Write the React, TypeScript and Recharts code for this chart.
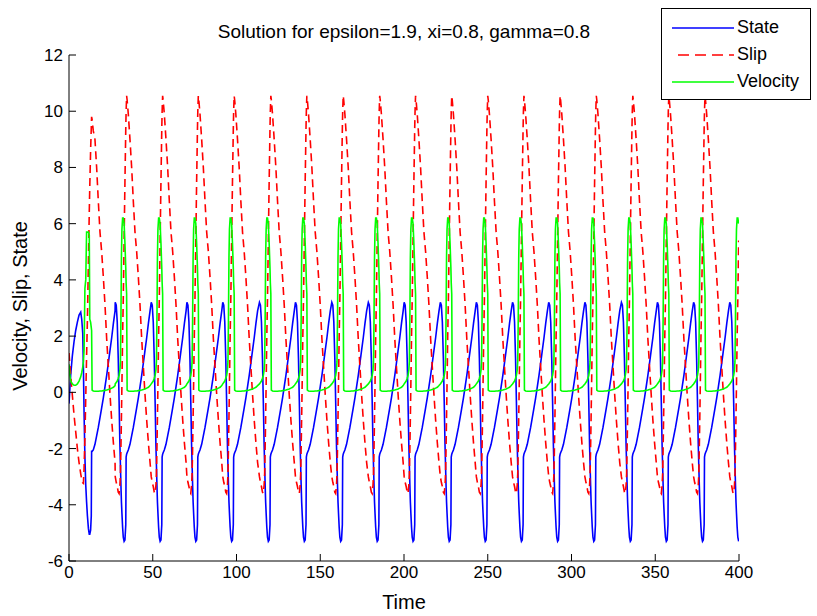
import { LineChart, Line, XAxis, YAxis, Legend } from 'recharts'

// start-up transient, read point by point (t, state, slip, velocity)
const startTime = [0, 0.5, 1, 2, 3, 4, 5, 6, 7, 7.6, 8.2, 8.6, 9.0, 9.5, 10.0, 10.5, 11.0, 11.6, 12.1, 12.4, 12.9, 13.3, 13.5, 13.8, 14.5]
const startState = [-0.4, 0.1, 0.6, 1.3, 1.8, 2.2, 2.5, 2.75, 2.85, 2.6, 2.1, 0.9, -0.75, -2.3, -3.3, -3.9, -4.4, -4.85, -5.05, -5.05, -4.9, -4.4, -2.1, -2.1, -2.05]
const startSlip = [1.4, 1.0, 0.6, -0.1, -0.8, -1.4, -2.0, -2.5, -2.9, -3.1, -3.22, -3.24, -2.7, -1.6, -0.2, 1.3, 2.6, 4.7, 6.4, 7.3, 8.6, 9.4, 9.8, 9.7, 9.3]
const startVelocity = [1.0, 0.6, 0.4, 0.3, 0.25, 0.25, 0.3, 0.4, 0.55, 0.7, 0.9, 1.1, 1.5, 3.7, 4.0, 5.7, 5.7, 5.7, 5.6, 2.6, 2.5, 2.3, 2.2, 0.08, 0.05]

// one limit cycle, offsets measured from the slip peak
const cycleOffset = [-6.8, -6.2, -5.6, -5.0, -4.5, -4.0, -3.7, -3.4, -3.1, -2.8, -2.4, -2.0, -1.5, -1.0, -0.5, -0.3, 0, 0.3, 1, 2, 3, 4, 5, 6, 7, 8, 9, 10, 11, 12, 13, 14]
const cycleState = [3.2, 3.1, 2.5, 1.2, -0.3, -1.9, -2.6, -3.3, -3.9, -4.3, -4.8, -5.15, -5.3, -5.25, -4.7, -2.3, -2.2, -2.15, -2.05, -1.85, -1.55, -1.25, -0.9, -0.55, -0.2, 0.2, 0.6, 1.05, 1.5, 1.95, 2.45, 2.9]
const cycleSlip = [-3.0, -3.2, -3.35, -3.55, -3.6, -3.3, -2.9, -2.0, -0.9, 0.3, 2.0, 3.3, 5.4, 7.5, 9.4, 10.0, 10.55, 10.4, 9.9, 9.0, 8.0, 6.8, 5.7, 5.0, 4.1, 3.1, 1.9, 0.9, -0.1, -1.0, -1.8, -2.5]
const cycleVelocity = [0.3, 0.35, 0.4, 0.5, 0.6, 0.8, 1.1, 2.6, 4.8, 5.8, 6.2, 6.2, 6.0, 5.3, 4.4, 3.9, 3.5, 0.08, 0.05, 0.04, 0.04, 0.04, 0.05, 0.05, 0.06, 0.07, 0.08, 0.1, 0.12, 0.15, 0.18, 0.24]

// times of the slip maxima (last one sits just past the right edge)
const slipPeaks = [13.5, 34.4, 55.9, 77.2, 98.6, 120.5, 142.0, 163.7, 185.5, 206.9, 228.5, 250.0, 271.6, 293.2, 314.8, 336.6, 358.1, 379.7, 401.3]

const xTicks = [0, 50, 100, 150, 200, 250, 300, 350, 400]
const yTicks = [-6, -4, -2, 0, 2, 4, 6, 8, 10, 12]

type Row = { t: number; state: number; slip: number; velocity: number }

const rows: Row[] = startTime.map((t, i) => ({
  t, state: startState[i], slip: startSlip[i], velocity: startVelocity[i],
}))
const lastStart = startTime[startTime.length - 1]
slipPeaks.forEach(peak => {
  cycleOffset.forEach((u, i) => {
    const t = Math.round((peak + u) * 100) / 100
    if (t <= lastStart || t > 400) return
    rows.push({ t, state: cycleState[i], slip: cycleSlip[i], velocity: cycleVelocity[i] })
  })
})

const FONT = '"Liberation Sans", Arial, Helvetica, sans-serif'
const tickStyle = { fill: '#000', fontSize: 17, fontFamily: FONT }

const legendItems = [
  { name: 'State', color: '#0000ff', dash: undefined as string | undefined },
  { name: 'Slip', color: '#ff0000', dash: '11 6' },
  { name: 'Velocity', color: '#00ff00', dash: undefined as string | undefined },
]

function LegendBox() {
  return (
    <div style={{
      width: 150, height: 92, border: '1px solid #000', background: '#fff',
      boxSizing: 'border-box', paddingTop: 5, fontFamily: FONT, fontSize: 18, color: '#000',
    }}>
      {legendItems.map(item => (
        <div key={item.name} style={{ display: 'flex', alignItems: 'center', height: 27 }}>
          <svg width={62} height={6} style={{ marginLeft: 10, flexShrink: 0 }}>
            <line x1={item.dash ? 6 : 0} y1={3} x2={62} y2={3} stroke={item.color} strokeWidth={1.5} strokeDasharray={item.dash} />
          </svg>
          <span style={{ marginLeft: 3, whiteSpace: 'nowrap' }}>{item.name}</span>
        </div>
      ))}
    </div>
  )
}

export default function App() {
  return (
    <div style={{ position: 'absolute', left: 0, top: 0, width: 817, height: 616, background: '#fff', fontFamily: FONT }}>
      <LineChart
        width={817}
        height={616}
        data={rows}
        margin={{ top: 55, right: 78, bottom: 15, left: 19 }}
      >
        <XAxis
          xAxisId="bottom"
          dataKey="t"
          type="number"
          domain={[0, 400]}
          ticks={xTicks}
          allowDataOverflow
          height={40}
          tickSize={-7}
          tickMargin={12}
          tick={tickStyle}
          stroke="#000"
        />
        <XAxis
          xAxisId="top"
          orientation="top"
          dataKey="t"
          type="number"
          domain={[0, 400]}
          ticks={xTicks}
          height={0}
          tickSize={-7}
          tick={false}
          stroke="#000"
        />
        <YAxis
          yAxisId="left"
          type="number"
          domain={[-6, 12]}
          ticks={yTicks}
          allowDataOverflow
          width={50}
          tickSize={-7}
          tickMargin={13}
          tick={tickStyle}
          stroke="#000"
        />
        <YAxis
          yAxisId="right"
          orientation="right"
          type="number"
          domain={[-6, 12]}
          ticks={yTicks}
          width={0}
          tickSize={-7}
          tick={false}
          stroke="#000"
        />
        <Line xAxisId="bottom" yAxisId="left" type="linear" dataKey="state" name="State" stroke="#0000ff" strokeWidth={1.6} dot={false} isAnimationActive={false} />
        <Line xAxisId="bottom" yAxisId="left" type="linear" dataKey="slip" name="Slip" stroke="#ff0000" strokeWidth={1.6} strokeDasharray="8 5" dot={false} isAnimationActive={false} />
        <Line xAxisId="bottom" yAxisId="left" type="linear" dataKey="velocity" name="Velocity" stroke="#00ff00" strokeWidth={1.6} dot={false} isAnimationActive={false} />
        <Legend
          layout="vertical"
          align="center"
          verticalAlign="middle"
          wrapperStyle={{ left: 661, top: 8, width: 150 }}
          content={() => <LegendBox />}
        />
      </LineChart>
      <div style={{ position: 'absolute', left: 69, width: 670, top: 21, textAlign: 'center', fontSize: 19, color: '#000' }}>
        Solution for epsilon=1.9, xi=0.8, gamma=0.8
      </div>
      <div style={{ position: 'absolute', left: 69, width: 670, top: 591, textAlign: 'center', fontSize: 20, color: '#000' }}>
        Time
      </div>
      <div style={{
        position: 'absolute', left: 20, top: 306, width: 300, marginLeft: -150, marginTop: -12,
        textAlign: 'center', fontSize: 20, color: '#000', transform: 'rotate(-90deg)', lineHeight: '24px',
      }}>
        Velocity, Slip, State
      </div>
    </div>
  )
}
